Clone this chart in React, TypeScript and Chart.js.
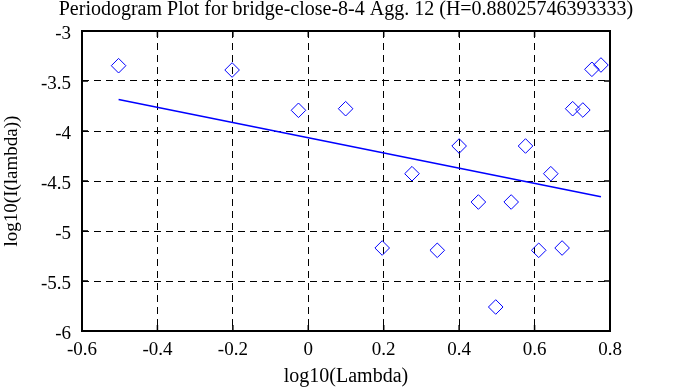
import React, { useEffect, useRef } from "react";
import { Chart, registerables } from "chart.js";

Chart.register(...registerables);

const titleText = "Periodogram Plot for bridge-close-8-4 Agg. 12 (H=0.88025746393333)";
const xAxisTitle = "log10(Lambda)";
const yAxisTitle = "log10(I(lambda))";

const xLogLambda = [-0.503, -0.202, -0.026, 0.099, 0.196, 0.275, 0.342, 0.4, 0.451, 0.497, 0.538, 0.576, 0.611, 0.643, 0.673, 0.701, 0.728, 0.752, 0.776];
const yLogI = [-3.347, -3.39, -3.793, -3.777, -5.17, -4.427, -5.193, -4.15, -4.71, -5.76, -4.71, -4.15, -5.193, -4.427, -5.17, -3.777, -3.79, -3.383, -3.34];
const fitX = [-0.503, 0.776];
const fitY = [-3.684, -4.657];

const FONT = "'Liberation Serif', 'Times New Roman', serif";

const frame = {
  id: "frame",
  afterDraw(chart: any) {
    const { ctx, chartArea: a, scales } = chart;
    ctx.save();
    ctx.strokeStyle = "#000";
    ctx.lineWidth = 1.5;
    const tl = 6;
    ctx.beginPath();
    scales.x.ticks.forEach((t: any) => {
      const px = scales.x.getPixelForValue(t.value);
      ctx.moveTo(px, a.bottom);
      ctx.lineTo(px, a.bottom - tl);
      ctx.moveTo(px, a.top);
      ctx.lineTo(px, a.top + tl);
    });
    scales.y.ticks.forEach((t: any) => {
      const py = scales.y.getPixelForValue(t.value);
      ctx.moveTo(a.left, py);
      ctx.lineTo(a.left + tl, py);
      ctx.moveTo(a.right, py);
      ctx.lineTo(a.right - tl, py);
    });
    ctx.stroke();
    ctx.lineWidth = 2;
    ctx.strokeRect(a.left, a.top, a.right - a.left, a.bottom - a.top);
    ctx.fillStyle = "#000";
    ctx.font = "20px " + FONT;
    ctx.textAlign = "center";
    ctx.textBaseline = "middle";
    ctx.fillText(titleText, (a.left + a.right) / 2, 10);
    ctx.restore();
  },
};

export default function App() {
  const ref = useRef<HTMLCanvasElement>(null);
  useEffect(() => {
    const scatter = xLogLambda.map((x, i) => ({ x, y: yLogI[i] }));
    const fit = fitX.map((x, i) => ({ x, y: fitY[i] }));
    const chart = new Chart(ref.current!, {
      type: "scatter",
      data: {
        datasets: [
          {
            data: scatter,
            pointStyle: "rectRot",
            pointRadius: 7.3,
            pointBorderColor: "#0000ff",
            pointBackgroundColor: "rgba(0,0,0,0)",
            pointBorderWidth: 1,
            showLine: false,
          },
          {
            data: fit,
            showLine: true,
            borderColor: "#0000ff",
            borderWidth: 1.5,
            pointRadius: 0,
          },
        ],
      },
      options: {
        responsive: false,
        animation: false,
        devicePixelRatio: 1,
        layout: { padding: { top: 31, right: 73, left: 0, bottom: 0 } },
        plugins: { legend: { display: false }, tooltip: { enabled: false }, title: { display: false } },
        scales: {
          x: {
            type: "linear",
            min: -0.6,
            max: 0.8,
            afterFit: (s: any) => { s.height = 56; },
            ticks: {
              stepSize: 0.2,
              color: "#000",
              font: { family: FONT, size: 19 },
              padding: 8,
              callback: (v: any) => String(Number(Number(v).toFixed(1))),
            },
            grid: { color: "#000", lineWidth: 1, drawTicks: false },
            border: { display: false, dash: [7, 5] },
            title: { display: true, text: xAxisTitle, color: "#000", font: { family: FONT, size: 20 }, padding: { top: 0, bottom: -2 } },
          },
          y: {
            type: "linear",
            min: -6,
            max: -3,
            afterFit: (s: any) => { s.width = 82; },
            ticks: {
              stepSize: 0.5,
              color: "#000",
              font: { family: FONT, size: 19 },
              padding: 11,
              labelOffset: 3,
              callback: (v: any) => String(Number(Number(v).toFixed(1))),
            },
            grid: { color: "#000", lineWidth: 1, drawTicks: false },
            border: { display: false, dash: [7, 5] },
            title: { display: true, text: yAxisTitle, color: "#000", font: { family: FONT, size: 19 }, padding: { top: 1, bottom: 0 } },
          },
        },
      },
      plugins: [frame],
    });
    return () => chart.destroy();
  }, []);
  return (
    <div style={{ position: "absolute", left: 0, top: 0, width: 683, height: 387, background: "#fff" }}>
      <canvas ref={ref} width={683} height={387} />
    </div>
  );
}
